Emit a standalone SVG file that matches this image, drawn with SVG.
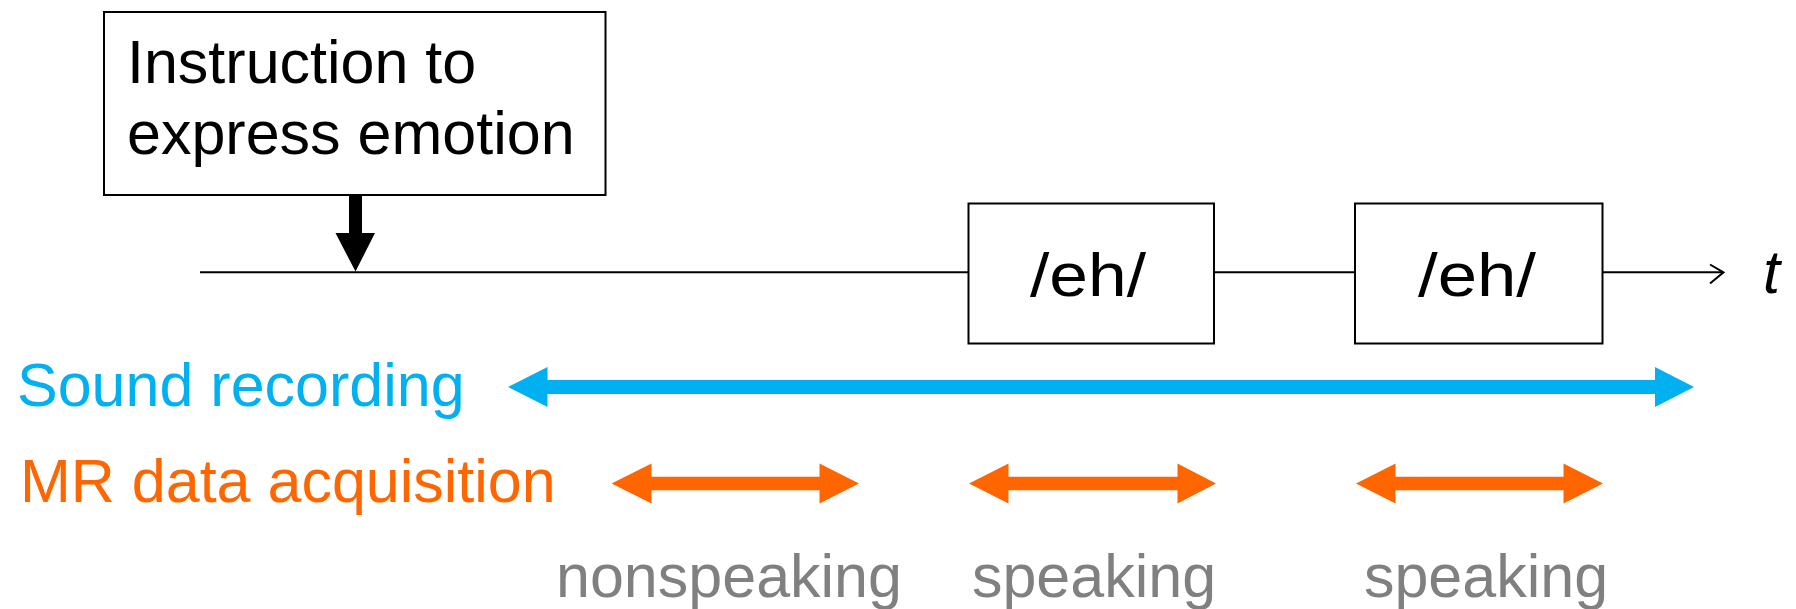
<svg xmlns="http://www.w3.org/2000/svg" width="1796" height="609" viewBox="0 0 1796 609">
<style>
.box{fill:#fff;stroke:#000;stroke-width:2}
.txt{font-family:"Liberation Sans",Arial,sans-serif;font-size:61px}
.blk{fill:#000}
.blue{fill:#00B0F0}
.orange{fill:#FF6600}
.gray{fill:#808080}
.line{stroke:#000;stroke-width:2;fill:none}
</style>
<rect width="1796" height="609" fill="#fff"/>
<g id="connectors">
  <line class="line" x1="200" y1="272.3" x2="1723" y2="272.3"/>
  <polyline class="line" points="1710,264.5 1723.5,272.3 1710,283.5"/>
  <polygon id="cue-arrow" class="blk" points="349,195 362,195 362,233 375,233 355.5,271.5 335.5,233 349,233"/>
  <polygon id="sound-arrow" class="blue" points="508,387 547.5,367 547.5,380 1655,380 1655,367 1694,387 1655,407 1655,394 547.5,394 547.5,407"/>
  <polygon id="mr-arrow-1" class="orange" points="611.5,483.5 651.5,463.5 651.5,476.8 819.5,476.8 819.5,463.5 859,483.5 819.5,503.5 819.5,490.2 651.5,490.2 651.5,503.5"/>
  <polygon id="mr-arrow-2" class="orange" points="969,483.5 1008.5,463.5 1008.5,476.8 1177.5,476.8 1177.5,463.5 1216,483.5 1177.5,503.5 1177.5,490.2 1008.5,490.2 1008.5,503.5"/>
  <polygon id="mr-arrow-3" class="orange" points="1356,483.5 1395.5,463.5 1395.5,476.8 1563.5,476.8 1563.5,463.5 1603,483.5 1563.5,503.5 1563.5,490.2 1395.5,490.2 1395.5,503.5"/>
</g>
<g id="instruction">
  <rect class="box" x="104" y="12" width="501.5" height="183"/>
  <text class="txt blk" x="127" y="83">Instruction to</text>
  <text class="txt blk" x="127" y="153.5">express emotion</text>
</g>
<g id="eh-1">
  <rect class="box" x="968.5" y="203.5" width="245.5" height="140"/>
  <text class="txt blk" x="1030" y="296" font-size="65" textLength="116" lengthAdjust="spacingAndGlyphs">/eh/</text>
</g>
<g id="eh-2">
  <rect class="box" x="1355" y="203.5" width="247.5" height="140"/>
  <text class="txt blk" x="1418" y="296" font-size="65" textLength="118" lengthAdjust="spacingAndGlyphs">/eh/</text>
</g>
<g id="time-label">
  <text class="txt blk" x="1763" y="293" font-style="italic" font-size="56">t</text>
</g>
<g id="sound-label">
  <text class="txt blue" x="17" y="405.7">Sound recording</text>
</g>
<g id="mr-label">
  <text class="txt orange" x="20" y="502.3">MR data acquisition</text>
</g>
<g id="phase-labels">
  <text class="txt gray" x="729" y="596.7" text-anchor="middle">nonspeaking</text>
  <text class="txt gray" x="1094" y="596.7" text-anchor="middle">speaking</text>
  <text class="txt gray" x="1486" y="596.7" text-anchor="middle">speaking</text>
</g>
</svg>
